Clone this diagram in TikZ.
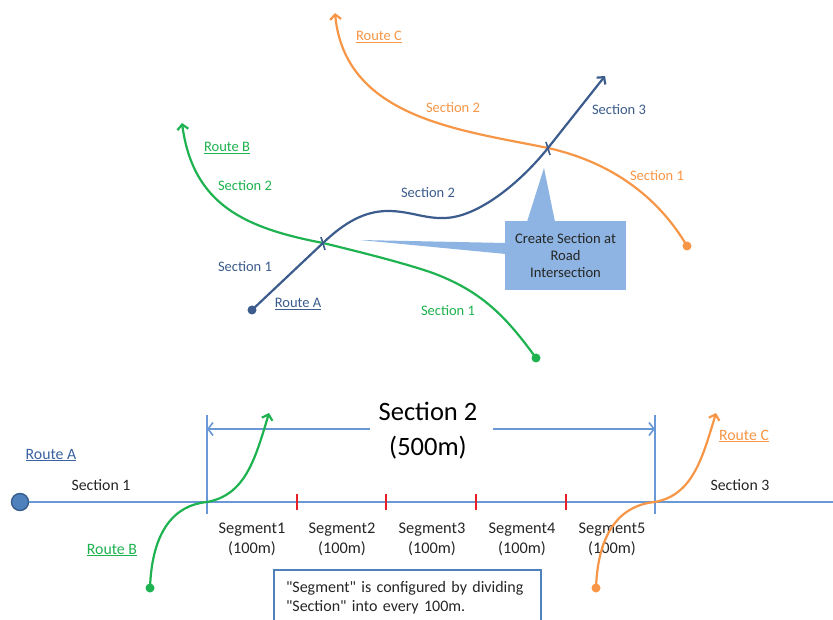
\documentclass[tikz,border=0pt]{standalone}
\usepackage{fontspec}
\setmainfont{Carlito}
% same face without the TeX input mapping, so that " stays a straight quote
\newfontfamily\notefont{Carlito}[Ligatures=TeXOff]
\usetikzlibrary{arrows.meta}

\definecolor{routeAc}{RGB}{59,92,140}
\definecolor{routeBc}{RGB}{30,178,80}
\definecolor{routeCc}{RGB}{247,150,70}
\definecolor{calloutc}{RGB}{141,180,226}
\definecolor{axisc}{RGB}{104,152,214}
\definecolor{axisdot}{RGB}{79,129,189}
\definecolor{axisrim}{RGB}{56,93,140}
\definecolor{textc}{RGB}{38,38,38}
\definecolor{tickc}{RGB}{232,30,40}
\definecolor{linkA}{RGB}{58,98,160}
\definecolor{noterim}{RGB}{79,129,189}

\tikzset{
  barb/.style={-{Straight Barb[length=5pt,width=11pt]}},
  routeA/.style={draw=routeAc, line width=2.2pt},
  routeB/.style={draw=routeBc, line width=2.2pt},
  routeC/.style={draw=routeCc, line width=2.2pt},
  crossmark/.style={draw=routeAc, line width=1.6pt},
  enddot/.style={circle, inner sep=0pt, minimum size=9pt},
  lbl/.style={font=\fontsize{14.5}{17}\selectfont, inner sep=0pt},
  mlbl/.style={font=\fontsize{15.8}{18}\selectfont, inner sep=0pt},
  seglbl/.style={font=\fontsize{16.3}{20}\selectfont, inner sep=0pt, align=center, text=textc},
  callout/.style={fill=calloutc, minimum width=121pt, minimum height=69pt,
    inner sep=0pt, align=center, text=textc, font=\fontsize{14.6}{16.8}\selectfont},
  axisline/.style={draw=axisc, line width=2.5pt},
  guide/.style={draw=axisc, line width=1.6pt},
  dimarrow/.style={draw=axisc, line width=1.6pt, -{Straight Barb[length=5pt,width=13pt]}},
  segtick/.style={draw=tickc, line width=1.4pt},
  notebox/.style={draw=noterim, line width=2pt, fill=white, minimum width=267pt,
    minimum height=55pt, text width=243pt, inner xsep=12pt, align=left,
    text=textc, font=\notefont\fontsize{16}{19}\selectfont}
}

\begin{document}
\begin{tikzpicture}[x=1pt, y=-1pt]
\useasboundingbox[fill=white] (0,0) rectangle (833,620);

% ---------------- road network ----------------
\coordinate (aB) at (323,243);   % Route A meets Route B
\coordinate (aC) at (548,148);   % Route A meets Route C
\coordinate (a3) at (605,76);
\coordinate (b3) at (182,123);
\coordinate (c3) at (335,13);

\node[enddot, fill=routeAc] (a0) at (252,310) {};
\node[enddot, fill=routeBc] (b0) at (536,358) {};
\node[enddot, fill=routeCc] (c0) at (687,246) {};

% Route C
\draw[routeC, barb] (c0.center) .. controls (660,200) and (615,163) .. (aC)
  .. controls (460,130) and (345,118) .. (c3);
% Route B
\draw[routeB, barb] (b0.center) .. controls (505,315) and (480,290) .. (430,272)
  .. controls (400,262) and (360,252) .. (aB)
  .. controls (245,228) and (193,205) .. (b3);
% Route A
\draw[routeA, barb] (a0.center) -- (aB)
  .. controls (345,222) and (365,211) .. (388,211)
  .. controls (410,211) and (425,219) .. (445,218)
  .. controls (478,217) and (520,183) .. (aC) -- (a3);

% section breaks at the crossings
\draw[crossmark] ([shift={(-2,-6)}]aB) -- ([shift={(2,7)}]aB);
\draw[crossmark] ([shift={(-2,-6)}]aC) -- ([shift={(2,7)}]aC);

% labels of the network
\node[lbl, text=routeCc] (lRC) at (379,37) {\underline{Route C}};
\node[lbl, text=routeCc] (lC2) at (453,108) {Section 2};
\node[lbl, text=routeAc] (lA3) at (619,110) {Section 3};
\node[lbl, text=routeCc] (lC1) at (657,176) {Section 1};
\node[lbl, text=routeBc] (lRB) at (227,148) {\underline{Route B}};
\node[lbl, text=routeBc] (lB2) at (245,186) {Section 2};
\node[lbl, text=routeAc] (lA2) at (428,193) {Section 2};
\node[lbl, text=routeAc] (lA1) at (245,267) {Section 1};
\node[lbl, text=routeAc] (lRA) at (298,304) {\underline{Route A}};
\node[lbl, text=routeBc] (lB1) at (448,311) {Section 1};

% callout
\coordinate (ptUp) at (544,168);
\coordinate (ptLeft) at (360,240);
\node[callout] (note1) at (565.5,255.5) {Create Section at\\Road\\Intersection};
\fill[calloutc] ([shift={(-38.5,1)}]note1.north) -- (ptUp) -- ([shift={(-10.5,1)}]note1.north) -- cycle;
\fill[calloutc] ([shift={(1,-12.5)}]note1.west) -- (ptLeft) -- ([shift={(1,-1.5)}]note1.west) -- cycle;

% ---------------- linear view of Route A ----------------
\coordinate (s2L) at (207,502);
\coordinate (s2R) at (655,502);
\coordinate (axEnd) at (843,502);
\node[circle, fill=axisdot, draw=axisrim, line width=1.4pt, minimum size=17pt, inner sep=0pt] (ax0) at (20,502) {};
\draw[axisline, -{Straight Barb[length=5pt,width=12pt]}] (ax0.east) -- (axEnd);

% section 2 bounds and its length
\coordinate (gLtop) at (207,415);
\coordinate (gLbot) at (207,514);
\coordinate (gRtop) at (655,415);
\coordinate (gRbot) at (655,514);
\draw[guide] (gLtop) -- (gLbot);
\draw[guide] (gRtop) -- (gRbot);
\node[font=\fontsize{26.5}{35}\selectfont, align=center, text=black, inner sep=0pt] (len) at (428,431) {Section 2\\(500m)};
\coordinate (dL0) at (370,429);
\coordinate (dL1) at (207,429);
\coordinate (dR0) at (493,429);
\coordinate (dR1) at (655,429);
\draw[dimarrow] (dL0) -- (dL1);
\draw[dimarrow] (dR0) -- (dR1);

% 100 m segment boundaries
\foreach \x/\n in {297/1,386/2,476/3,566/4}{
  \coordinate (tt\n) at (\x,494);
  \coordinate (tb\n) at (\x,510);
  \draw[segtick] (tt\n) -- (tb\n);
}
\node[seglbl] (sg1) at (252,539) {Segment1\\(100m)};
\node[seglbl] (sg2) at (342,539) {Segment2\\(100m)};
\node[seglbl] (sg3) at (432,539) {Segment3\\(100m)};
\node[seglbl] (sg4) at (522,539) {Segment4\\(100m)};
\node[seglbl] (sg5) at (612,539) {Segment5\\(100m)};

% crossing routes
\coordinate (bt) at (269,413);
\coordinate (ct) at (716,413);
\node[enddot, fill=routeBc] (bb0) at (150,588) {};
\node[enddot, fill=routeCc] (cc0) at (596,588) {};
\draw[routeB, barb] (bb0.center) .. controls (152,530) and (175,505) .. (s2L)
  .. controls (245,495) and (255,460) .. (bt);
\draw[routeC, barb] (cc0.center) .. controls (598,530) and (622,505) .. (s2R)
  .. controls (692,495) and (702,460) .. (ct);

% labels of the linear view
\node[mlbl, text=linkA] (mRA) at (51,455) {\underline{Route A}};
\node[mlbl, text=textc] (mS1) at (101,485) {Section 1};
\node[mlbl, text=textc] (mS3) at (740,485) {Section 3};
\node[mlbl, text=routeBc] (mRB) at (112,550) {\underline{Route B}};
\node[mlbl, text=routeCc] (mRC) at (744,436) {\underline{Route C}};

% note on segments
\node[notebox] (note2) at (407.5,597.5) {"Segment" is configured by dividing\\"Section" into every 100m.};
\end{tikzpicture}
\end{document}
